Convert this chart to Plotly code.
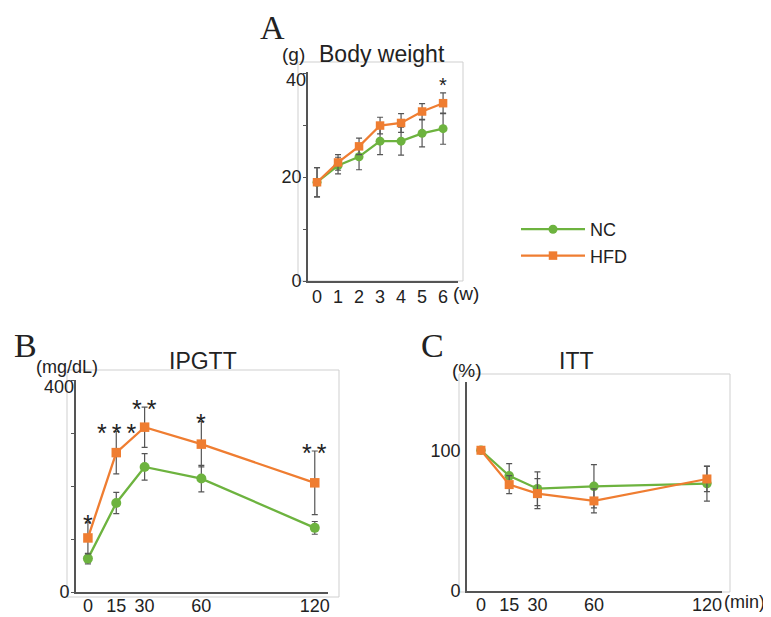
import plotly.graph_objects as go

# ---------------- data ----------------
weeks = [0, 1, 2, 3, 4, 5, 6]
bw_nc = [19.0, 22.2, 23.9, 26.9, 26.9, 28.4, 29.3]
bw_nc_sd = [2.8, 1.6, 2.5, 2.6, 2.7, 2.6, 3.0]
bw_hfd = [19.0, 22.8, 25.9, 29.9, 30.4, 32.6, 34.2]
bw_hfd_sd = [2.8, 1.5, 1.6, 1.6, 1.8, 1.5, 2.0]
bw_sig = ["", "", "", "", "", "", "*"]
bw_yticks = [0, 20]
bw_ytop = [40]

minutes = [0, 15, 30, 60, 120]
gtt_nc = [63, 168, 236, 214, 121]
gtt_nc_sd = [10, 20, 25, 25, 12]
gtt_hfd = [102, 263, 311, 279, 206]
gtt_hfd_sd = [30, 40, 38, 43, 60]
gtt_sig = ["*", "*\u2009*\u2009*", "*\u2009*", "*", "*\u2009*"]
gtt_yticks = [0]
gtt_ytop = [400]

itt_nc = [100, 81.8, 72.7, 74.4, 76.3]
itt_nc_sd = [0, 8.7, 12, 15.4, 12.5]
itt_hfd = [100, 75.6, 69.2, 64.0, 79.6]
itt_hfd_sd = [0, 6.4, 10.7, 8.5, 9]
itt_yticks = [0, 100]

GREEN = "#6DB33F"
ORANGE = "#EF7D31"
ERR = "#555555"
AX = "#555555"
BOX = "#CFCFCF"
FONT = "Liberation Sans, Arial, sans-serif"
SERIF = "Liberation Serif, Times New Roman, serif"

W, H = 771, 617
OFF = 8  # page body margin
def px(x):
    return (x - OFF) / W
def py(y):
    return 1 - (y - OFF) / H

fig = go.Figure()

def add_series(xs, ys, sd, color, symbol, name, xa, ya, show, msize, lw):
    fig.add_trace(go.Scatter(
        x=xs, y=ys, name=name, mode="lines+markers",
        line=dict(color=color, width=lw),
        marker=dict(color=color, symbol=symbol, size=msize),
        error_y=dict(type="data", array=sd, visible=True, color=ERR, thickness=1.2, width=3),
        xaxis=xa, yaxis=ya, showlegend=show, legendgroup=name,
    ))

add_series(weeks, bw_nc, bw_nc_sd, GREEN, "circle", "NC", "x", "y", True, 9, 2.2)
add_series(weeks, bw_hfd, bw_hfd_sd, ORANGE, "square", "HFD", "x", "y", True, 8.5, 2.2)
add_series(minutes, gtt_nc, gtt_nc_sd, GREEN, "circle", "NC", "x2", "y2", False, 10, 2.3)
add_series(minutes, gtt_hfd, gtt_hfd_sd, ORANGE, "square", "HFD", "x2", "y2", False, 9.5, 2.3)
add_series(minutes, itt_nc, itt_nc_sd, GREEN, "circle", "NC", "x3", "y3", False, 9.5, 2.2)
add_series(minutes, itt_hfd, itt_hfd_sd, ORANGE, "square", "HFD", "x3", "y3", False, 9, 2.2)
# empty traces so the overlay axes (top tick labels) get drawn
fig.add_trace(go.Scatter(x=[], y=[], xaxis="x", yaxis="y4", showlegend=False, hoverinfo="skip"))
fig.add_trace(go.Scatter(x=[], y=[], xaxis="x2", yaxis="y5", showlegend=False, hoverinfo="skip"))

tickfont = dict(family=FONT, size=18, color="#222")

def xax(domain, rng, tv, anchor, standoff):
    return dict(domain=domain, range=rng, tickvals=tv, ticks="", showline=True,
                linecolor=AX, linewidth=1.6, showgrid=False, zeroline=False,
                tickfont=tickfont, anchor=anchor, automargin=False, ticklabelstandoff=standoff)

def yax(domain, rng, tv, anchor, minor=None):
    d = dict(domain=domain, range=rng, tickvals=tv, ticks="", showline=True,
             linecolor=AX, linewidth=1.6, showgrid=False, zeroline=False,
             tickfont=tickfont, anchor=anchor, ticklabelstandoff=1, automargin=False)
    if minor:
        d["minor"] = dict(dtick=minor, ticks="outside", ticklen=3, tickcolor=AX, showgrid=False)
    return d

def ytop(over, rng, tv, anchor, domain):
    # overlay axis carrying only the top tick label, nudged down as in the reference
    return dict(overlaying=over, domain=domain, range=rng, tickvals=tv, ticks="", showline=False,
                showgrid=False, zeroline=False, tickfont=tickfont, anchor=anchor,
                ticklabelstandoff=1, ticklabelshift=7, automargin=False)

dA = [py(281), py(72)]
dB = [py(592), py(380)]
dC = [py(591), py(382)]

fig.update_layout(
    width=W, height=H, margin=dict(l=0, r=0, t=0, b=0, autoexpand=False),
    paper_bgcolor="white", plot_bgcolor="rgba(0,0,0,0)",
    font=dict(family=FONT, color="#222"),
    xaxis=xax([px(308), px(458)], [-0.43, 6.71], weeks, "y", -1),
    yaxis=yax(dA, [0, 40.2], bw_yticks, "x", minor=10),
    xaxis2=xax([px(76), px(328)], [-6.3, 127], minutes, "y2", -3),
    yaxis2=yax(dB, [0, 400], gtt_yticks, "x2", minor=100),
    xaxis3=xax([px(467), px(722)], [-7.4, 128], minutes, "y3", -3),
    yaxis3=yax(dC, [0, 148.5], itt_yticks, "x3"),
    yaxis4=ytop("y", [0, 40.2], bw_ytop, "x", dA),
    yaxis5=ytop("y2", [0, 400], gtt_ytop, "x2", dB),
    legend=dict(x=px(516), y=py(211), xanchor="left", yanchor="top",
                font=dict(family=FONT, size=18, color="#222"),
                itemwidth=64, tracegroupgap=0, bgcolor="rgba(0,0,0,0)"),
)

# light gray frames
for (x0, y0, x1, y1) in [(298, 62, 463, 281), (67, 370, 339, 597), (459, 374, 730, 592)]:
    fig.add_shape(type="rect", xref="paper", yref="paper",
                  x0=px(x0), x1=px(x1), y0=py(y1), y1=py(y0),
                  line=dict(color=BOX, width=1), layer="below")

def txt(x, y, s, size=19, family=FONT):
    fig.add_annotation(x=px(x), y=py(y), xref="paper", yref="paper", text=s,
                       showarrow=False, xanchor="center", yanchor="middle",
                       font=dict(family=family, size=size, color="#222"))

# panel letters
txt(272, 27, "A", 34, SERIF)
txt(25, 345, "B", 34, SERIF)
txt(432, 345, "C", 34, SERIF)
# titles
txt(382, 54, "Body weight", 23)
txt(203, 361, "IPGTT", 23)
txt(576, 361, "ITT", 23)
# units
txt(293, 55, "(g)", 19)
txt(67, 367, "(mg/dL)", 18)
txt(467, 370, "(%)", 19)
txt(466, 294, "(w)", 19)
txt(744, 602, "(min)", 18)

# significance marks
for xv, m, s, lab in zip(weeks, bw_hfd, bw_hfd_sd, bw_sig):
    if lab:
        fig.add_annotation(x=xv, y=m + s, xref="x", yref="y", text=lab, showarrow=False,
                           yanchor="middle", yshift=8, font=dict(family=FONT, size=20, color="#222"))
for xv, m, s, lab in zip(minutes, gtt_hfd, gtt_hfd_sd, gtt_sig):
    fig.add_annotation(x=xv, y=m + s, xref="x2", yref="y2", text=lab, showarrow=False,
                       yanchor="middle", yshift=-2, font=dict(family=FONT, size=25, color="#222"))

fig.write_html("out.html")
